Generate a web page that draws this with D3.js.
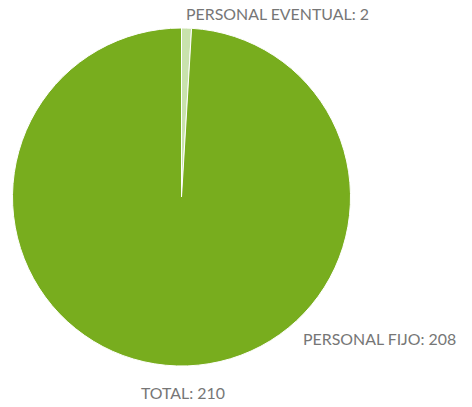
<html>
<script src="https://d3js.org/d3.v7.min.js"></script>
<body style="margin:0;background:#fff">
<svg id="chart"></svg>
<script>
    const width = 472;
    const height = 407;

    const categories = ["PERSONAL EVENTUAL", "PERSONAL FIJO"];
    const values = [2, 208];
    const colors = ["#c9e2ad", "#78ad1e"];
    const totalLabel = "TOTAL";

    const cx = 181.5, cy = 197, radius = 169;

    const svg = d3.select('#chart')
        .attr('width', width).attr('height', height);

    const g = svg.append('g').attr('transform', `translate(${cx},${cy})`);

    const pie = d3.pie().sort(null).value(d => d.value);
    const arc = d3.arc().innerRadius(0).outerRadius(radius);
    const data = categories.map((c, i) => ({name: c, value: values[i], color: colors[i]}));
    const arcs = pie(data);

    g.selectAll('path')
        .data(arcs)
        .enter().append('path')
        .attr('d', arc)
        .style('fill', d => d.data.color)
        .style('stroke', '#fff')
        .style('stroke-width', '1px');

    const font = "Lato, 'Noto Sans', sans-serif";

    // label of small slice sits above the pie, label of big slice bottom right
    const labelPos = [
        {x: 4.5, y: -radius - 8},
        {x: 121.5, y: 148}
    ];

    g.selectAll('text.lbl')
        .data(arcs)
        .enter().append('text')
        .attr('class', 'lbl')
        .attr('x', (d, i) => labelPos[i].x)
        .attr('y', (d, i) => labelPos[i].y)
        .style('font-family', font)
        .style('font-size', '15.9px')
        .style('fill', '#767676')
        .text(d => d.data.name + ': ' + d.data.value);

    g.append('text')
        .attr('x', -40.5)
        .attr('y', 202)
        .style('font-family', font)
        .style('font-size', '15.9px')
        .style('fill', '#767676')
        .text(totalLabel + ': ' + d3.sum(values));
</script>
</body>
</html>
